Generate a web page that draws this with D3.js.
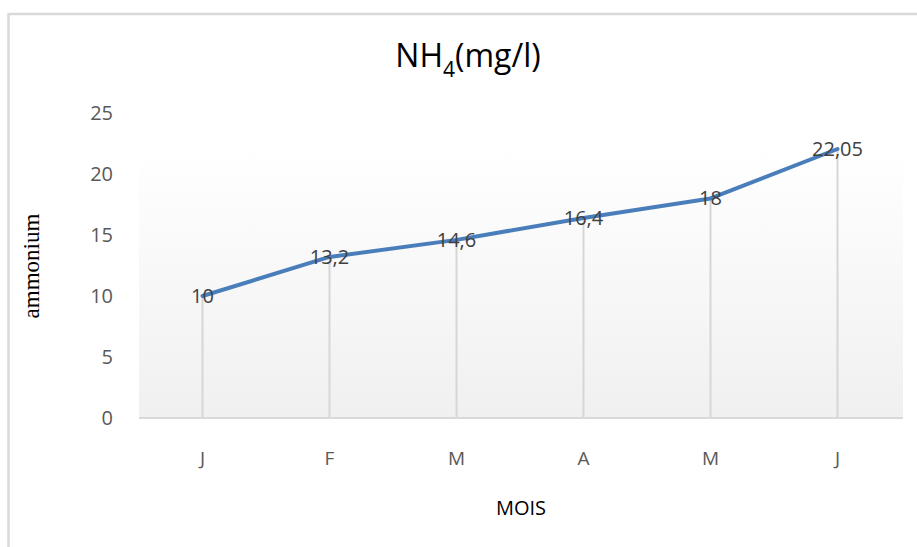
<!DOCTYPE html>
<html>
<head>
<meta charset="utf-8">
<script src="https://cdn.jsdelivr.net/npm/d3@7"></script>
<style>
  body { margin: 0; background: #fff; }
  text { font-family: "Open Sans", "Noto Sans", sans-serif; }
</style>
</head>
<body>
<div class="chart"></div>
<script>
// data
var months = ["J", "F", "M", "A", "M", "J"];
var ammonium = [10, 13.2, 14.6, 16.4, 18, 22.05];
var labels = ["10", "13,2", "14,6", "16,4", "18", "22,05"];
var yTicks = [0, 5, 10, 15, 20, 25];

var svgWidth = 917, svgHeight = 547;

var svg = d3.select(".chart")
  .append("svg")
  .attr("width", svgWidth)
  .attr("height", svgHeight);

// outer frame of the chart
svg.append("rect")
  .attr("x", 8.5).attr("y", 14)
  .attr("width", 930).attr("height", 560)
  .attr("fill", "#fff")
  .attr("stroke", "#d9d9d9")
  .attr("stroke-width", 2.5);

var plot = { left: 139, right: 901, top: 113, bottom: 418 };

var xScale = d3.scaleBand()
  .domain(d3.range(months.length))
  .range([plot.left, plot.right]);

var yScale = d3.scaleLinear()
  .domain([0, 25])
  .range([plot.bottom, plot.top]);

// gradient background of the plot area
var grad = svg.append("defs").append("linearGradient")
  .attr("id", "bg").attr("x1", 0).attr("y1", 0).attr("x2", 0).attr("y2", 1);
grad.append("stop").attr("offset", "0%").attr("stop-color", "#ffffff");
grad.append("stop").attr("offset", "100%").attr("stop-color", "#f0f0f0");

svg.append("rect")
  .attr("x", plot.left)
  .attr("y", 148)
  .attr("width", plot.right - plot.left + 2)
  .attr("height", plot.bottom - 148)
  .attr("fill", "url(#bg)");

var cx = i => xScale(i) + xScale.bandwidth() / 2;

// drop lines
svg.append("g").selectAll("line")
  .data(ammonium)
  .enter()
  .append("line")
  .attr("x1", (d, i) => cx(i))
  .attr("x2", (d, i) => cx(i))
  .attr("y1", d => yScale(d))
  .attr("y2", yScale(0))
  .attr("stroke", "#d6d6d6")
  .attr("stroke-width", 2);

// x axis line
svg.append("line")
  .attr("x1", plot.left).attr("x2", plot.right + 2)
  .attr("y1", yScale(0)).attr("y2", yScale(0))
  .attr("stroke", "#d9d9d9")
  .attr("stroke-width", 2);

// y tick labels
var yAxis = d3.axisLeft(yScale).tickValues(yTicks).tickSize(0).tickPadding(0);
var yG = svg.append("g")
  .attr("transform", "translate(113, 0)")
  .call(yAxis);
yG.select(".domain").remove();
yG.selectAll("text")
  .attr("fill", "#595959")
  .style("font-size", "20px")
  .style("font-family", "'Open Sans', sans-serif");

// x tick labels
var xAxis = d3.axisBottom(xScale).tickFormat(i => months[i]).tickSize(0).tickPadding(0);
var xG = svg.append("g")
  .attr("transform", "translate(0, 451)")
  .call(xAxis);
xG.select(".domain").remove();
xG.selectAll("text")
  .attr("fill", "#595959")
  .style("font-size", "19px")
  .style("font-family", "'Open Sans', sans-serif");

// the series
var line = d3.line()
  .x((d, i) => cx(i))
  .y(d => yScale(d));

svg.append("path")
  .datum(ammonium)
  .attr("d", line)
  .attr("fill", "none")
  .attr("stroke", "#4a7ebb")
  .attr("stroke-width", 4)
  .attr("stroke-linejoin", "round")
  .attr("stroke-linecap", "round");

// data labels
svg.append("g").selectAll("text")
  .data(ammonium)
  .enter()
  .append("text")
  .attr("x", (d, i) => cx(i))
  .attr("y", d => yScale(d))
  .attr("dy", "0.35em")
  .attr("text-anchor", "middle")
  .attr("fill", "#404040")
  .style("font-size", "20px")
  .text((d, i) => labels[i]);

// title with subscript
var title = svg.append("text")
  .attr("x", 468)
  .attr("y", 67)
  .attr("text-anchor", "middle")
  .attr("fill", "#000")
  .style("font-size", "32px");
title.append("tspan").text("NH");
title.append("tspan").attr("dy", 10).style("font-size", "21px").text("4");
title.append("tspan").attr("dy", -10).text("(mg/l)");

// axis titles
svg.append("text")
  .attr("transform", "translate(39, 266) rotate(-90)")
  .attr("text-anchor", "middle")
  .attr("fill", "#000")
  .style("font-family", "'Liberation Serif', 'DejaVu Serif', serif")
  .style("font-size", "23px")
  .text("ammonium");

svg.append("text")
  .attr("x", 521)
  .attr("y", 515)
  .attr("text-anchor", "middle")
  .attr("fill", "#000")
  .style("font-size", "20px")
  .text("MOIS");
</script>
</body>
</html>
